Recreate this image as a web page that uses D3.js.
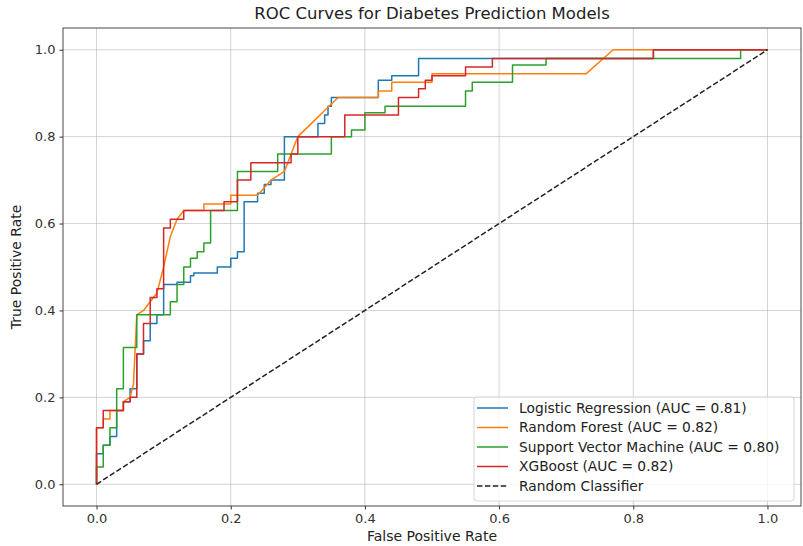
<!DOCTYPE html>
<html lang="en">
<head>
<meta charset="UTF-8">
<title>ROC Curves for Diabetes Prediction Models</title>
<script src="https://d3js.org/d3.v7.min.js"></script>
<style>
  body { margin: 0; background: #fff; }
  svg { font-family: "DejaVu Sans", sans-serif; }
</style>
</head>
<body>
<div id="chart"></div>
<script>
// ROC points (fpr, tpr)
const lrFpr = [0,0,0.01,0.01,0.02,0.02,0.03,0.03,0.04,0.04,0.05,0.05,0.06,0.06,0.07,0.07,0.08,0.08,0.09,0.09,0.10,0.10,0.12,0.12,0.14,0.14,0.145,0.145,0.18,0.18,0.20,0.20,0.21,0.21,0.22,0.22,0.24,0.24,0.25,0.25,0.26,0.26,0.28,0.28,0.33,0.33,0.34,0.34,0.345,0.345,0.35,0.35,0.42,0.42,0.44,0.44,0.48,0.48,0.83,0.83,1];
const lrTpr = [0,0.07,0.07,0.09,0.09,0.11,0.11,0.17,0.17,0.19,0.19,0.22,0.22,0.30,0.30,0.33,0.33,0.37,0.37,0.39,0.39,0.46,0.46,0.465,0.465,0.48,0.48,0.486,0.486,0.50,0.50,0.52,0.52,0.535,0.535,0.65,0.65,0.67,0.67,0.69,0.69,0.70,0.70,0.80,0.80,0.83,0.83,0.85,0.85,0.87,0.87,0.89,0.89,0.93,0.93,0.94,0.94,0.98,0.98,1,1];

const rfFpr = [0,0,0.01,0.01,0.02,0.02,0.04,0.04,0.05,0.055,0.06,0.07,0.08,0.09,0.10,0.11,0.12,0.13,0.16,0.16,0.20,0.20,0.24,0.26,0.28,0.30,0.32,0.34,0.36,0.42,0.42,0.44,0.44,0.50,0.50,0.73,0.77,1];
const rfTpr = [0,0.13,0.13,0.15,0.15,0.17,0.17,0.19,0.20,0.23,0.39,0.40,0.42,0.44,0.50,0.57,0.61,0.63,0.63,0.645,0.645,0.665,0.665,0.70,0.72,0.80,0.83,0.86,0.89,0.89,0.905,0.905,0.925,0.925,0.945,0.945,1,1];

const svmFpr = [0,0,0.01,0.01,0.02,0.02,0.03,0.03,0.04,0.04,0.06,0.06,0.11,0.11,0.12,0.12,0.13,0.13,0.14,0.14,0.15,0.15,0.16,0.16,0.17,0.17,0.21,0.21,0.27,0.27,0.35,0.35,0.38,0.38,0.40,0.40,0.43,0.43,0.55,0.55,0.56,0.56,0.62,0.62,0.67,0.67,0.96,0.96,1];
const svmTpr = [0,0.04,0.04,0.09,0.09,0.13,0.13,0.22,0.22,0.315,0.315,0.39,0.39,0.42,0.42,0.46,0.46,0.50,0.50,0.52,0.52,0.535,0.535,0.555,0.555,0.63,0.63,0.72,0.72,0.76,0.76,0.80,0.80,0.815,0.815,0.855,0.855,0.87,0.87,0.905,0.905,0.925,0.925,0.965,0.965,0.98,0.98,1,1];

const xgbFpr = [0,0,0.01,0.01,0.04,0.04,0.05,0.05,0.06,0.06,0.07,0.07,0.08,0.08,0.09,0.09,0.10,0.10,0.11,0.11,0.13,0.13,0.19,0.19,0.21,0.21,0.23,0.23,0.29,0.29,0.30,0.30,0.37,0.37,0.45,0.45,0.48,0.48,0.49,0.49,0.50,0.50,0.55,0.55,0.59,0.59,0.83,0.83,1];
const xgbTpr = [0,0.13,0.13,0.17,0.17,0.19,0.19,0.20,0.20,0.30,0.30,0.37,0.37,0.43,0.43,0.45,0.45,0.59,0.59,0.61,0.61,0.63,0.63,0.65,0.65,0.70,0.70,0.74,0.74,0.76,0.76,0.80,0.80,0.85,0.85,0.89,0.89,0.91,0.91,0.93,0.93,0.94,0.94,0.96,0.96,0.98,0.98,1,1];

const modelNames = ["Logistic Regression", "Random Forest", "Support Vector Machine", "XGBoost"];
const aucValues = [0.81, 0.82, 0.80, 0.82];
const tickValues = [0, 0.2, 0.4, 0.6, 0.8, 1.0];

const colors = ["#1f77b4", "#ff7f0e", "#2ca02c", "#d62728"];
const series = [
  [lrFpr, lrTpr], [rfFpr, rfTpr], [svmFpr, svmTpr], [xgbFpr, xgbTpr]
].map((s, i) => ({
  name: modelNames[i],
  auc: aucValues[i],
  color: colors[i],
  points: s[0].map((f, j) => [f, s[1][j]])
}));

const width = 803, height = 546;
const margin = {top: 28, right: 2, bottom: 40, left: 63};

const svg = d3.select("#chart").append("svg")
  .attr("width", width)
  .attr("height", height);

const x = d3.scaleLinear().domain([-0.05, 1.05]).range([margin.left, width - margin.right]);
const y = d3.scaleLinear().domain([-0.05, 1.05]).range([height - margin.bottom, margin.top]);

// grid
svg.append("g").selectAll("line.vg")
  .data(tickValues).join("line")
  .attr("x1", d => x(d)).attr("x2", d => x(d))
  .attr("y1", y.range()[1]).attr("y2", y.range()[0])
  .attr("stroke", "#b0b0b0").attr("stroke-opacity", 0.7).attr("stroke-width", 0.8);
svg.append("g").selectAll("line.hg")
  .data(tickValues).join("line")
  .attr("y1", d => y(d)).attr("y2", d => y(d))
  .attr("x1", x.range()[0]).attr("x2", x.range()[1])
  .attr("stroke", "#b0b0b0").attr("stroke-opacity", 0.7).attr("stroke-width", 0.8);

// axes
const xAxis = d3.axisBottom(x).tickValues(tickValues).tickFormat(d3.format(".1f")).tickSizeOuter(0).tickSize(3.5).tickPadding(4);
const yAxis = d3.axisLeft(y).tickValues(tickValues).tickFormat(d3.format(".1f")).tickSizeOuter(0).tickSize(3.5).tickPadding(4);

const gx = svg.append("g").attr("transform", `translate(0,${height - margin.bottom})`).call(xAxis);
const gy = svg.append("g").attr("transform", `translate(${margin.left},0)`).call(yAxis);
[gx, gy].forEach(g => {
  g.select(".domain").remove();
  g.selectAll("text").attr("font-size", 13).attr("fill", "#333").attr("font-family", "DejaVu Sans");
  g.selectAll("line").attr("stroke", "#333");
});

svg.append("clipPath").attr("id", "plot-clip")
  .append("rect")
  .attr("x", x.range()[0]).attr("y", y.range()[1])
  .attr("width", x.range()[1] - x.range()[0])
  .attr("height", y.range()[0] - y.range()[1]);

const line = d3.line().x(d => x(d[0])).y(d => y(d[1]));

const plot = svg.append("g").attr("clip-path", "url(#plot-clip)");
plot.selectAll("path.roc")
  .data(series).join("path")
  .attr("class", "roc")
  .attr("d", d => line(d.points))
  .attr("fill", "none")
  .attr("stroke", d => d.color)
  .attr("stroke-width", 1.5)
  .attr("stroke-linejoin", "round");

plot.append("path")
  .attr("d", line([[0, 0], [1, 1]]))
  .attr("fill", "none")
  .attr("stroke", "#222")
  .attr("stroke-width", 1.5)
  .attr("stroke-dasharray", "5.5,2.4");

// frame
svg.append("rect")
  .attr("x", x.range()[0]).attr("y", y.range()[1])
  .attr("width", x.range()[1] - x.range()[0])
  .attr("height", y.range()[0] - y.range()[1])
  .attr("fill", "none").attr("stroke", "#333").attr("stroke-width", 0.9);

// title and axis labels
svg.append("text")
  .attr("x", (x.range()[0] + x.range()[1]) / 2).attr("y", 19)
  .attr("text-anchor", "middle").attr("font-size", 16.5).attr("fill", "#222")
  .text("ROC Curves for Diabetes Prediction Models");
svg.append("text")
  .attr("x", (x.range()[0] + x.range()[1]) / 2).attr("y", 541)
  .attr("text-anchor", "middle").attr("font-size", 14).attr("fill", "#222")
  .text("False Positive Rate");
svg.append("text")
  .attr("transform", `translate(21,${(y.range()[0] + y.range()[1]) / 2}) rotate(-90)`)
  .attr("text-anchor", "middle").attr("font-size", 14).attr("fill", "#222")
  .text("True Positive Rate");

// legend
const legendItems = series.map(s => ({label: `${s.name} (AUC = ${s.auc.toFixed(2)})`, color: s.color, dash: null}))
  .concat([{label: "Random Classifier", color: "#222", dash: "5.5,2.4"}]);

const legend = svg.append("g").attr("transform", "translate(474,397)");
legend.append("rect")
  .attr("width", 320).attr("height", 104).attr("rx", 3)
  .attr("fill", "#fff").attr("fill-opacity", 0.8)
  .attr("stroke", "#ccc").attr("stroke-width", 0.8);
const li = legend.selectAll("g.item")
  .data(legendItems).join("g")
  .attr("transform", (d, i) => `translate(0,${11 + i * 19.5})`);
li.append("line")
  .attr("x1", 3).attr("x2", 34)
  .attr("stroke", d => d.color).attr("stroke-width", 1.5)
  .attr("stroke-dasharray", d => d.dash);
li.append("text")
  .attr("x", 45).attr("dy", "0.35em")
  .attr("font-size", 13.8).attr("fill", "#222")
  .text(d => d.label);
</script>
</body>
</html>
